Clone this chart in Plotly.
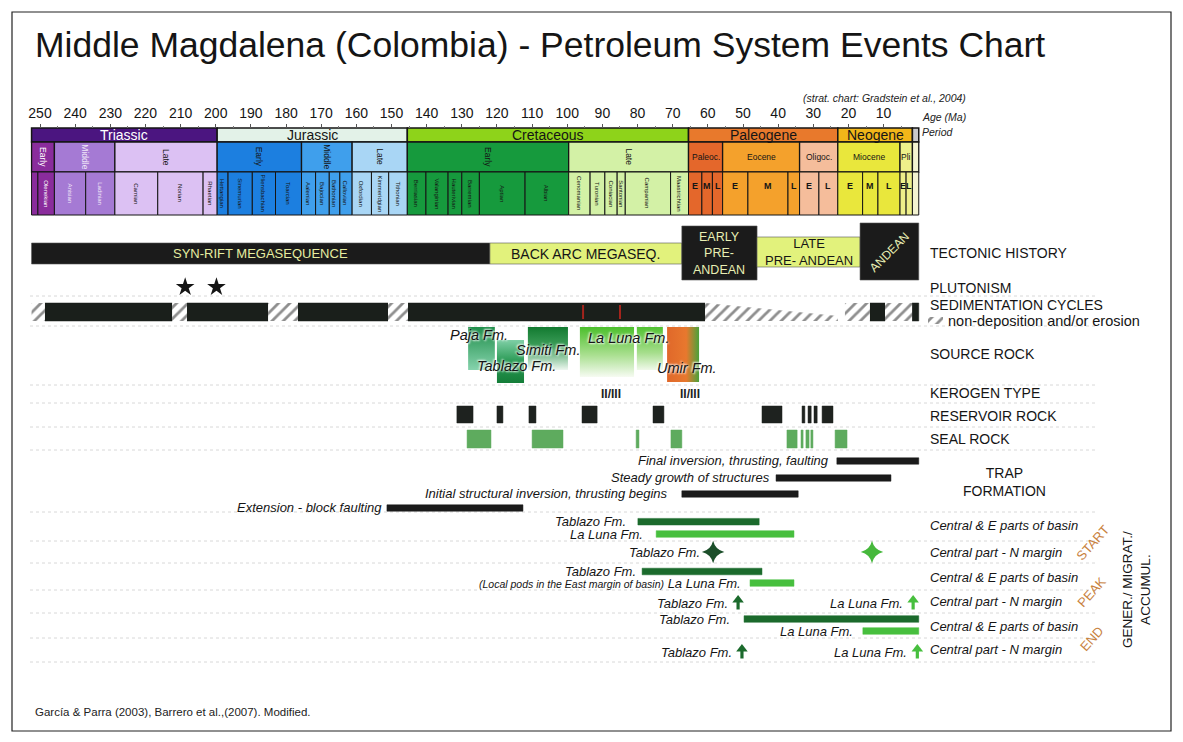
import plotly.graph_objects as go

W, H = 1183, 742
OFF = 8  # the page body keeps its default 8px margin
FONT = "Liberation Sans, Arial, Helvetica, sans-serif"
INK = "#151515"

# ---------------- data (ages in Ma) ----------------
AGE_TICKS = [250, 240, 230, 220, 210, 200, 190, 180, 170, 160, 150, 140, 130,
             120, 110, 100, 90, 80, 70, 60, 50, 40, 30, 20, 10]

PERIOD_NAMES = ["Triassic", "Jurassic", "Cretaceous", "Paleogene", "Neogene", ""]
PERIOD_START = [252.4, 199.6, 145.5, 65.5, 23.03, 1.8]
PERIOD_END = [199.6, 145.5, 65.5, 23.03, 1.8, 0.0]

EPOCH_NAMES = ["Early", "Middle", "Late", "Early", "Middle", "Late", "Early", "Late",
               "Paleoc.", "Eocene", "Oligoc.", "Miocene", "Pli", ""]
EPOCH_START = [252.4, 245.9, 228.7, 199.6, 175.6, 161.2, 145.5, 99.6,
               65.5, 55.8, 33.9, 23.03, 5.33, 1.8]
EPOCH_END = [245.9, 228.7, 199.6, 175.6, 161.2, 145.5, 99.6, 65.5,
             55.8, 33.9, 23.03, 5.33, 1.8, 0.0]

STAGE_NAMES = ["", "Olenekian", "Anisian", "Ladinian", "Carnian", "Norian", "Rhaetian",
               "Hettangian", "Sinemurian", "Pliensbachian", "Toarcian", "Aalenian", "Bajocian",
               "Bathonian", "Callovian", "Oxfordian", "Kimmeridgian", "Tithonian",
               "Berriasian", "Valanginian", "Hauterivian", "Barremian", "Aptian", "Albian",
               "Cenomanian", "Turonian", "Coniacian", "Santonian", "Campanian", "Maastrichtian",
               "E", "M", "L", "E", "M", "L", "E", "L", "E", "M", "L", "E", "L", ""]
STAGE_START = [252.4, 250.6, 245.9, 237.0, 228.7, 216.5, 203.6,
               199.6, 196.5, 189.6, 183.0, 175.6, 171.6, 167.7, 164.7, 161.2, 155.7, 150.8,
               145.5, 140.2, 133.9, 130.0, 125.0, 112.0, 99.6, 93.5, 89.3, 85.8, 83.5, 70.6,
               65.5, 61.7, 58.7, 55.8, 48.6, 37.2, 33.9, 28.4, 23.03, 15.97, 11.61, 5.33, 3.6, 1.8]
STAGE_END = [250.6, 245.9, 237.0, 228.7, 216.5, 203.6, 199.6,
             196.5, 189.6, 183.0, 175.6, 171.6, 167.7, 164.7, 161.2, 155.7, 150.8, 145.5,
             140.2, 133.9, 130.0, 125.0, 112.0, 99.6, 93.5, 89.3, 85.8, 83.5, 70.6, 65.5,
             61.7, 58.7, 55.8, 48.6, 37.2, 33.9, 28.4, 23.03, 15.97, 11.61, 5.33, 3.6, 1.8, 0.0]

TECTONIC_NAMES = ["SYN-RIFT MEGASEQUENCE", "BACK ARC MEGASEQ.", "EARLY<br>PRE-<br>ANDEAN",
                  "LATE<br>PRE- ANDEAN", "ANDEAN"]
TECTONIC_START = [252.4, 122.0, 67.4, 46.0, 16.7]
TECTONIC_END = [122.0, 67.4, 46.0, 16.7, 0.0]

PLUTON_AGES = [208.7, 199.8]

SED_START = [248.6, 208.2, 176.6, 145.3, 13.9, 1.9]
SED_END = [212.4, 185.1, 151.0, 60.8, 9.6, 0.0]
GAP_START = [252.4, 212.4, 185.1, 151.0, 21.0, 9.6]
GAP_END = [248.6, 208.2, 176.6, 145.3, 13.9, 1.9]
WEDGE_START, WEDGE_END = 60.8, 23.0
RED_STREAKS = [95.5, 85.0]

SOURCE_NAMES = ["Paja Fm.", "Tablazo Fm.", "Simiti Fm.", "La Luna Fm.", "", "Umir Fm."]
SOURCE_START = [128.2, 120.0, 111.2, 96.4, 80.2, 71.6]
SOURCE_END = [120.6, 112.3, 99.8, 81.0, 72.8, 62.5]
SOURCE_LABEL_AGE = [125.1, 114.3, 105.5, 82.7, 0, 65.9]

KEROGEN_TEXT = ["II/III", "II/III"]
KEROGEN_AGES = [87.6, 65.1]

RES_START = [131.4, 120.0, 110.9, 95.8, 75.6, 44.6, 33.2, 31.5, 29.8, 27.5]
RES_END = [126.8, 118.3, 108.9, 91.5, 72.5, 38.9, 32.4, 30.6, 28.9, 24.4]

SEAL_START = [128.5, 110.0, 80.4, 70.5, 37.5, 33.5, 32.1, 30.7, 23.8]
SEAL_END = [121.7, 101.2, 79.6, 67.4, 34.6, 32.9, 31.2, 30.1, 20.4]

TRAP_NAMES = ["Final inversion, thrusting, faulting", "Steady growth of structures",
              "Initial structural inversion, thrusting begins", "Extension - block faulting"]
TRAP_START = [23.3, 40.6, 67.4, 151.3]
TRAP_END = [0.0, 7.9, 34.3, 112.6]

GEN_UNIT = ["Tablazo", "La Luna", "Tablazo", "La Luna", "Tablazo", "La Luna"]
GEN_NAMES = ["Tablazo Fm.", "La Luna Fm.", "Tablazo Fm.",
             "<span style='font-size:10.5px'>(Local pods in the East margin of basin)</span> La Luna Fm.",
             "Tablazo Fm.", "La Luna Fm."]
GEN_START = [79.9, 74.7, 78.7, 48.0, 49.7, 15.9]
GEN_END = [45.4, 35.5, 44.6, 35.5, 0.0, 0.0]

STAR_UNIT = ["Tablazo", "La Luna"]
STAR_NAMES = ["Tablazo Fm.", ""]
STAR_AGES = [58.5, 13.3]

ARROW_UNIT = ["Tablazo", "La Luna", "Tablazo", "La Luna"]
ARROW_NAMES = ["Tablazo Fm.", "La Luna Fm.", "Tablazo Fm.", "La Luna Fm."]
ARROW_AGES = [51.4, 1.6, 50.3, 0.4]

RIGHT_LABELS = ["TECTONIC HISTORY", "PLUTONISM", "SEDIMENTATION CYCLES", "SOURCE ROCK",
                "KEROGEN TYPE", "RESERVOIR ROCK", "SEAL ROCK"]
BASIN_LABELS = ["Central & E parts of basin", "Central part - N margin"] * 3
STAGE_WORDS = ["START", "PEAK", "END"]

# ---------------- layout / styles ----------------
PX_PER_MA = 3.515
X_LEFT = 250 + (40 - OFF) / PX_PER_MA
X_RIGHT = 250 - (W - 40) / PX_PER_MA

PERIOD_ROW = (128, 142)
EPOCH_ROW = (142, 172)
STAGE_ROW = (172, 215)

PERIOD_COLORS = ["#4b1580", "#e3f2e8", "#8ed31a", "#e8792c", "#f2b619", "#c9c9c9"]
PERIOD_TEXT = ["white", INK, INK, INK, INK, INK]
EPOCH_COLORS = ["#8a2c9c", "#a57ad4", "#dcc1f3", "#1c7fe0", "#3f9fec", "#a9d6f5", "#169a3d",
                "#d3f1a6", "#e4672b", "#f4a12c", "#f5bd9b", "#e9e73c", "#eef08a", "#f3f3d0"]
EPOCH_TEXT = ["white", "#f0e6f8", INK, INK, INK, INK, INK, INK, INK, INK, INK, INK, INK, INK]
EPOCH_VERTICAL = [True] * 8 + [False] * 6

TECT_COLORS = ["#1b1b1b", "#e2f27c", "#1b1b1b", "#e2f27c", "#1b1b1b"]
TECT_TEXT = ["#e6eda0", INK, "#e8efb4", INK, "#e8efb4"]
TECT_ROWS = [(243, 264), (243, 264), (226, 280), (237, 267), (223, 280)]
TECT_SIZE = [13, 14, 12.5, 13, 12]
TECT_ANGLE = [0, 0, 0, 0, -45]

SED_ROW = (303, 321)
SOURCE_ROWS = [(327, 370), (340, 383), (327, 370), (327, 377), (327, 370), (327, 382)]
SOURCE_LABEL_Y = [335, 366, 350, 338, 0, 368]
# colour stops listed top -> bottom (vertical) or left -> right (horizontal)
SOURCE_GRAD = [("vertical", [[0, "#1f8e4a"], [1, "#86d3ad"]]),
               ("vertical", [[0, "#7fcfa6"], [0.5, "#2a9a55"], [1, "#147d38"]]),
               ("vertical", [[0, "#127a30"], [0.45, "#3d9e5a"], [1, "#eef7f0"]]),
               ("vertical", [[0, "#4cbf2c"], [0.55, "#a8df8e"], [1, "#f6fbf2"]]),
               ("vertical", [[0, "#52c232"], [0.6, "#a6de8c"], [1, "#f0f9ea"]]),
               ("horizontal", [[0, "#4aa23a"], [0.4, "#e8782e"], [1, "#e0682a"]])]
KEROGEN_Y = 394
RES_ROW = (406, 423)
SEAL_ROW = (430, 448)
TRAP_Y = [461, 478, 494, 508]
TRAP_SHIFT = [-6, -4, -12, -3]
GEN_Y = [521.7, 534, 571.5, 583, 619, 631]
GEN_SHIFT = [-10, -11, -4, -7, -12, -8]
STAR_Y = 552
ARROW_Y = [603, 603, 652, 652]
RIGHT_Y = [253, 288, 305, 354, 393, 416, 439]
BASIN_Y = [525.5, 552, 577, 601.5, 626.5, 649]
STAGE_WORD_POS = [(1092, 543), (1091, 592), (1091, 639)]
SEPARATORS = [296, 326, 385, 403, 427, 450, 512, 541, 563, 590, 613, 638, 662]
UNIT_COLORS = {"Tablazo": "#1b6a2c", "La Luna": "#47bf3e"}
STAR_COLORS = {"Tablazo": "#1c4f2a", "La Luna": "#46b83c"}

fig = go.Figure()


def px_age(px):
    return 250 - (px - 40) / PX_PER_MA


def xp(px):
    return (px - OFF) / (W - OFF)


def yp(py):
    return 1 - (py - OFF) / (H - OFF)


def flip(scale):
    return [[1 - p, c] for p, c in reversed(scale)]


def rect(x0, x1, y0, y1, fill, line=INK, lw=1.0):
    fig.add_shape(type="rect", xref="x", yref="y", x0=x0, x1=x1, y0=y0, y1=y1,
                  fillcolor=fill, line=dict(color=line, width=lw), layer="below")


def label(x, y, s, size=13, color=INK, angle=0, xref="x", xanchor="center",
          italic=False, bold=False, xshift=0, shadow=None):
    font = dict(family=FONT, size=size, color=color)
    if italic:
        font["style"] = "italic"
    if bold:
        font["weight"] = "bold"
    if shadow:
        font["shadow"] = shadow
    fig.add_annotation(x=x, y=y, xref=xref, yref="y", text=s, showarrow=False, font=font,
                       textangle=angle, xanchor=xanchor, yanchor="middle", xshift=xshift)


def hatch(x0, x1, y0, y1, y_right_top=None):
    top_r = y0 if y_right_top is None else y_right_top
    fig.add_trace(go.Scatter(
        x=[x0, x1, x1, x0, x0], y=[y0, top_r, y1, y1, y0], mode="lines", fill="toself",
        line=dict(width=0), fillcolor="white",
        fillpattern=dict(shape="/", fgcolor="#1e1e1e", bgcolor="white", size=8, solidity=0.35),
        hoverinfo="skip", showlegend=False))


# ---- time scale ----
for name, s, e, c, tc in zip(PERIOD_NAMES, PERIOD_START, PERIOD_END, PERIOD_COLORS, PERIOD_TEXT):
    rect(s, e, *PERIOD_ROW, c, lw=1.5)
    if name:
        label((s + e) / 2, sum(PERIOD_ROW) / 2, name, 14, tc)

for name, s, e, c, tc, vert in zip(EPOCH_NAMES, EPOCH_START, EPOCH_END, EPOCH_COLORS,
                                   EPOCH_TEXT, EPOCH_VERTICAL):
    rect(s, e, *EPOCH_ROW, c, lw=1.3)
    if name:
        label((s + e) / 2, sum(EPOCH_ROW) / 2, name, 8.5, tc, angle=90 if vert else 0)

for name, s, e in zip(STAGE_NAMES, STAGE_START, STAGE_END):
    k = max(i for i, es in enumerate(EPOCH_START) if es >= s - 1e-6 and EPOCH_END[i] < s)
    rect(s, e, *STAGE_ROW, EPOCH_COLORS[k], lw=1.0)
    if name:
        short = len(name) <= 2
        label((s + e) / 2, (STAGE_ROW[0] + 14) if short else sum(STAGE_ROW) / 2, name,
              9 if short else 6, EPOCH_TEXT[k], angle=0 if short else 90, bold=short)

# ---- tectonic history ----
for name, s, e, c, tc, (y0, y1), sz, ang in zip(TECTONIC_NAMES, TECTONIC_START, TECTONIC_END,
                                                TECT_COLORS, TECT_TEXT, TECT_ROWS, TECT_SIZE,
                                                TECT_ANGLE):
    rect(s, e, y0, y1, c, line="#555", lw=0.6)
    label((s + e) / 2, (y0 + y1) / 2, name, sz, tc, angle=ang)

# ---- plutonism ----
fig.add_trace(go.Scatter(x=PLUTON_AGES, y=[287] * len(PLUTON_AGES), mode="markers",
                         marker=dict(symbol="star", size=14, color=INK), hoverinfo="skip",
                         showlegend=False))

# ---- sedimentation cycles ----
for s, e in zip(SED_START, SED_END):
    rect(s, e, *SED_ROW, "#1a1f1b", line="#1a1f1b", lw=0.5)
for a in RED_STREAKS:
    fig.add_shape(type="line", xref="x", yref="y", x0=a, x1=a, y0=SED_ROW[0] + 2,
                  y1=SED_ROW[1] - 2, line=dict(color="#a3241c", width=2), layer="below")
for s, e in zip(GAP_START, GAP_END):
    hatch(s, e, *SED_ROW)
hatch(WEDGE_START, WEDGE_END, SED_ROW[0], SED_ROW[1], y_right_top=SED_ROW[1] - 5)

# ---- source rock ----
for name, s, e, (y0, y1), (kind, scale) in zip(SOURCE_NAMES, SOURCE_START, SOURCE_END,
                                               SOURCE_ROWS, SOURCE_GRAD):
    fig.add_trace(go.Scatter(x=[s, e, e, s, s], y=[y0, y0, y1, y1, y0], mode="lines",
                             line=dict(width=0), fill="toself",
                             fillgradient=dict(type=kind, colorscale=flip(scale)),
                             hoverinfo="skip", showlegend=False))
for name, a, y in zip(SOURCE_NAMES, SOURCE_LABEL_AGE, SOURCE_LABEL_Y):
    if name:
        label(a, y, name, 14.5, INK, italic=True,
              shadow="1px 1px 2px #ffffff, -1px -1px 2px #ffffff")

# ---- kerogen / reservoir / seal ----
for t, a in zip(KEROGEN_TEXT, KEROGEN_AGES):
    label(a, KEROGEN_Y, t, 12, "#222", bold=True)
for s, e in zip(RES_START, RES_END):
    rect(s, e, *RES_ROW, "#1e221f", line="#1e221f", lw=0.5)
for s, e in zip(SEAL_START, SEAL_END):
    rect(s, e, *SEAL_ROW, "#5eab5e", line="#5eab5e", lw=0.5)

# ---- trap formation ----
for name, s, e, y, sh in zip(TRAP_NAMES, TRAP_START, TRAP_END, TRAP_Y, TRAP_SHIFT):
    rect(s, e, y - 3.2, y + 3.2, "#1b1b1b", line="#1b1b1b", lw=0.5)
    label(s, y - 1, name, 13, INK, xanchor="right", italic=True, xshift=sh)

# ---- generation / migration / accumulation ----
for unit, name, s, e, y, sh in zip(GEN_UNIT, GEN_NAMES, GEN_START, GEN_END, GEN_Y, GEN_SHIFT):
    rect(s, e, y - 3.3, y + 3.3, UNIT_COLORS[unit], line=UNIT_COLORS[unit], lw=0.5)
    label(s, y, name, 13, INK, xanchor="right", italic=True, xshift=sh)

for unit, name, a in zip(STAR_UNIT, STAR_NAMES, STAR_AGES):
    fig.add_trace(go.Scatter(x=[a], y=[STAR_Y], mode="markers",
                             marker=dict(symbol="star-diamond", size=16, color=STAR_COLORS[unit]),
                             hoverinfo="skip", showlegend=False))
    if name:
        label(a, STAR_Y, name, 13, INK, xanchor="right", italic=True, xshift=-11)

# upward arrows: a short stem plus a triangular head
for unit, name, a, y in zip(ARROW_UNIT, ARROW_NAMES, ARROW_AGES, ARROW_Y):
    col = UNIT_COLORS[unit]
    fig.add_trace(go.Scatter(x=[a, a], y=[y + 6.5, y - 1], mode="lines",
                             line=dict(color=col, width=3.2), hoverinfo="skip",
                             showlegend=False))
    fig.add_trace(go.Scatter(x=[a], y=[y - 3], mode="markers",
                             marker=dict(symbol="triangle-up", size=10, color=col),
                             hoverinfo="skip", showlegend=False))
    label(a, y, name, 13, INK, xanchor="right", italic=True, xshift=-8)

# ---- right-hand labels ----
for t, y in zip(RIGHT_LABELS, RIGHT_Y):
    label(xp(928), y, t, 14, INK, xref="paper", xanchor="left")
label(xp(946), 320.5, "non-deposition and/or erosion", 14.5, INK, xref="paper", xanchor="left")
hatch(px_age(928), px_age(943), 317, 324)
label(xp(1004), 482, "TRAP<br>FORMATION", 14, INK, xref="paper")
for t, y in zip(BASIN_LABELS, BASIN_Y):
    label(xp(928), y, t, 13, INK, xref="paper", xanchor="left", italic=True)
for t, (x, y) in zip(STAGE_WORDS, STAGE_WORD_POS):
    label(xp(x), y, t, 13, "#c8823e", xref="paper", angle=-48)
label(xp(1136), 590, "GENER./ MIGRAT./<br>ACCUMUL.", 13.5, INK, xref="paper", angle=-90)

for y in SEPARATORS:
    fig.add_shape(type="line", xref="paper", yref="y", x0=xp(30), x1=xp(1095), y0=y, y1=y,
                  line=dict(color="#d8d8d8", width=1, dash="dot"), layer="below")

# ---- titles / notes ----
label(xp(33), 45, "Middle Magdalena (Colombia) - Petroleum System Events Chart", 35.5, INK,
      xref="paper", xanchor="left")
label(xp(968), 98, "(strat. chart: Gradstein et al., 2004)", 10.5, "#222", xref="paper",
      xanchor="right", italic=True)
label(xp(920), 117, "Age (Ma)", 10.5, "#222", xref="paper", xanchor="left", italic=True)
label(xp(920), 132, "Period", 10.5, "#222", xref="paper", xanchor="left", italic=True)
label(xp(33), 712, "García &amp; Parra (2003), Barrero et al.,(2007). Modified.", 11.5, "#222",
      xref="paper", xanchor="left")

fig.add_shape(type="rect", xref="paper", yref="paper", x0=xp(12), x1=xp(1171),
              y0=yp(731), y1=yp(12), line=dict(color="#222", width=1.2))

minor_ticks = [t for t in range(250, 0, -5) if t % 10]
fig.update_layout(
    width=W - OFF, height=H - OFF, margin=dict(l=0, r=0, t=0, b=0),
    paper_bgcolor="white", plot_bgcolor="white", showlegend=False,
    xaxis=dict(range=[X_LEFT, X_RIGHT], domain=[0, 1], anchor="free",
               position=yp(PERIOD_ROW[0]), side="top", tickmode="array",
               tickvals=AGE_TICKS, ticktext=[str(t) for t in AGE_TICKS], ticks="outside",
               ticklen=4, tickcolor="#555", tickfont=dict(family=FONT, size=14, color=INK),
               showgrid=False, zeroline=False, showline=False, fixedrange=True,
               minor=dict(tickmode="array", tickvals=minor_ticks, ticks="outside", ticklen=2,
                          tickcolor="#777")),
    yaxis=dict(range=[H, OFF], domain=[0, 1], visible=False, fixedrange=True),
)

fig.write_html("out.html")
